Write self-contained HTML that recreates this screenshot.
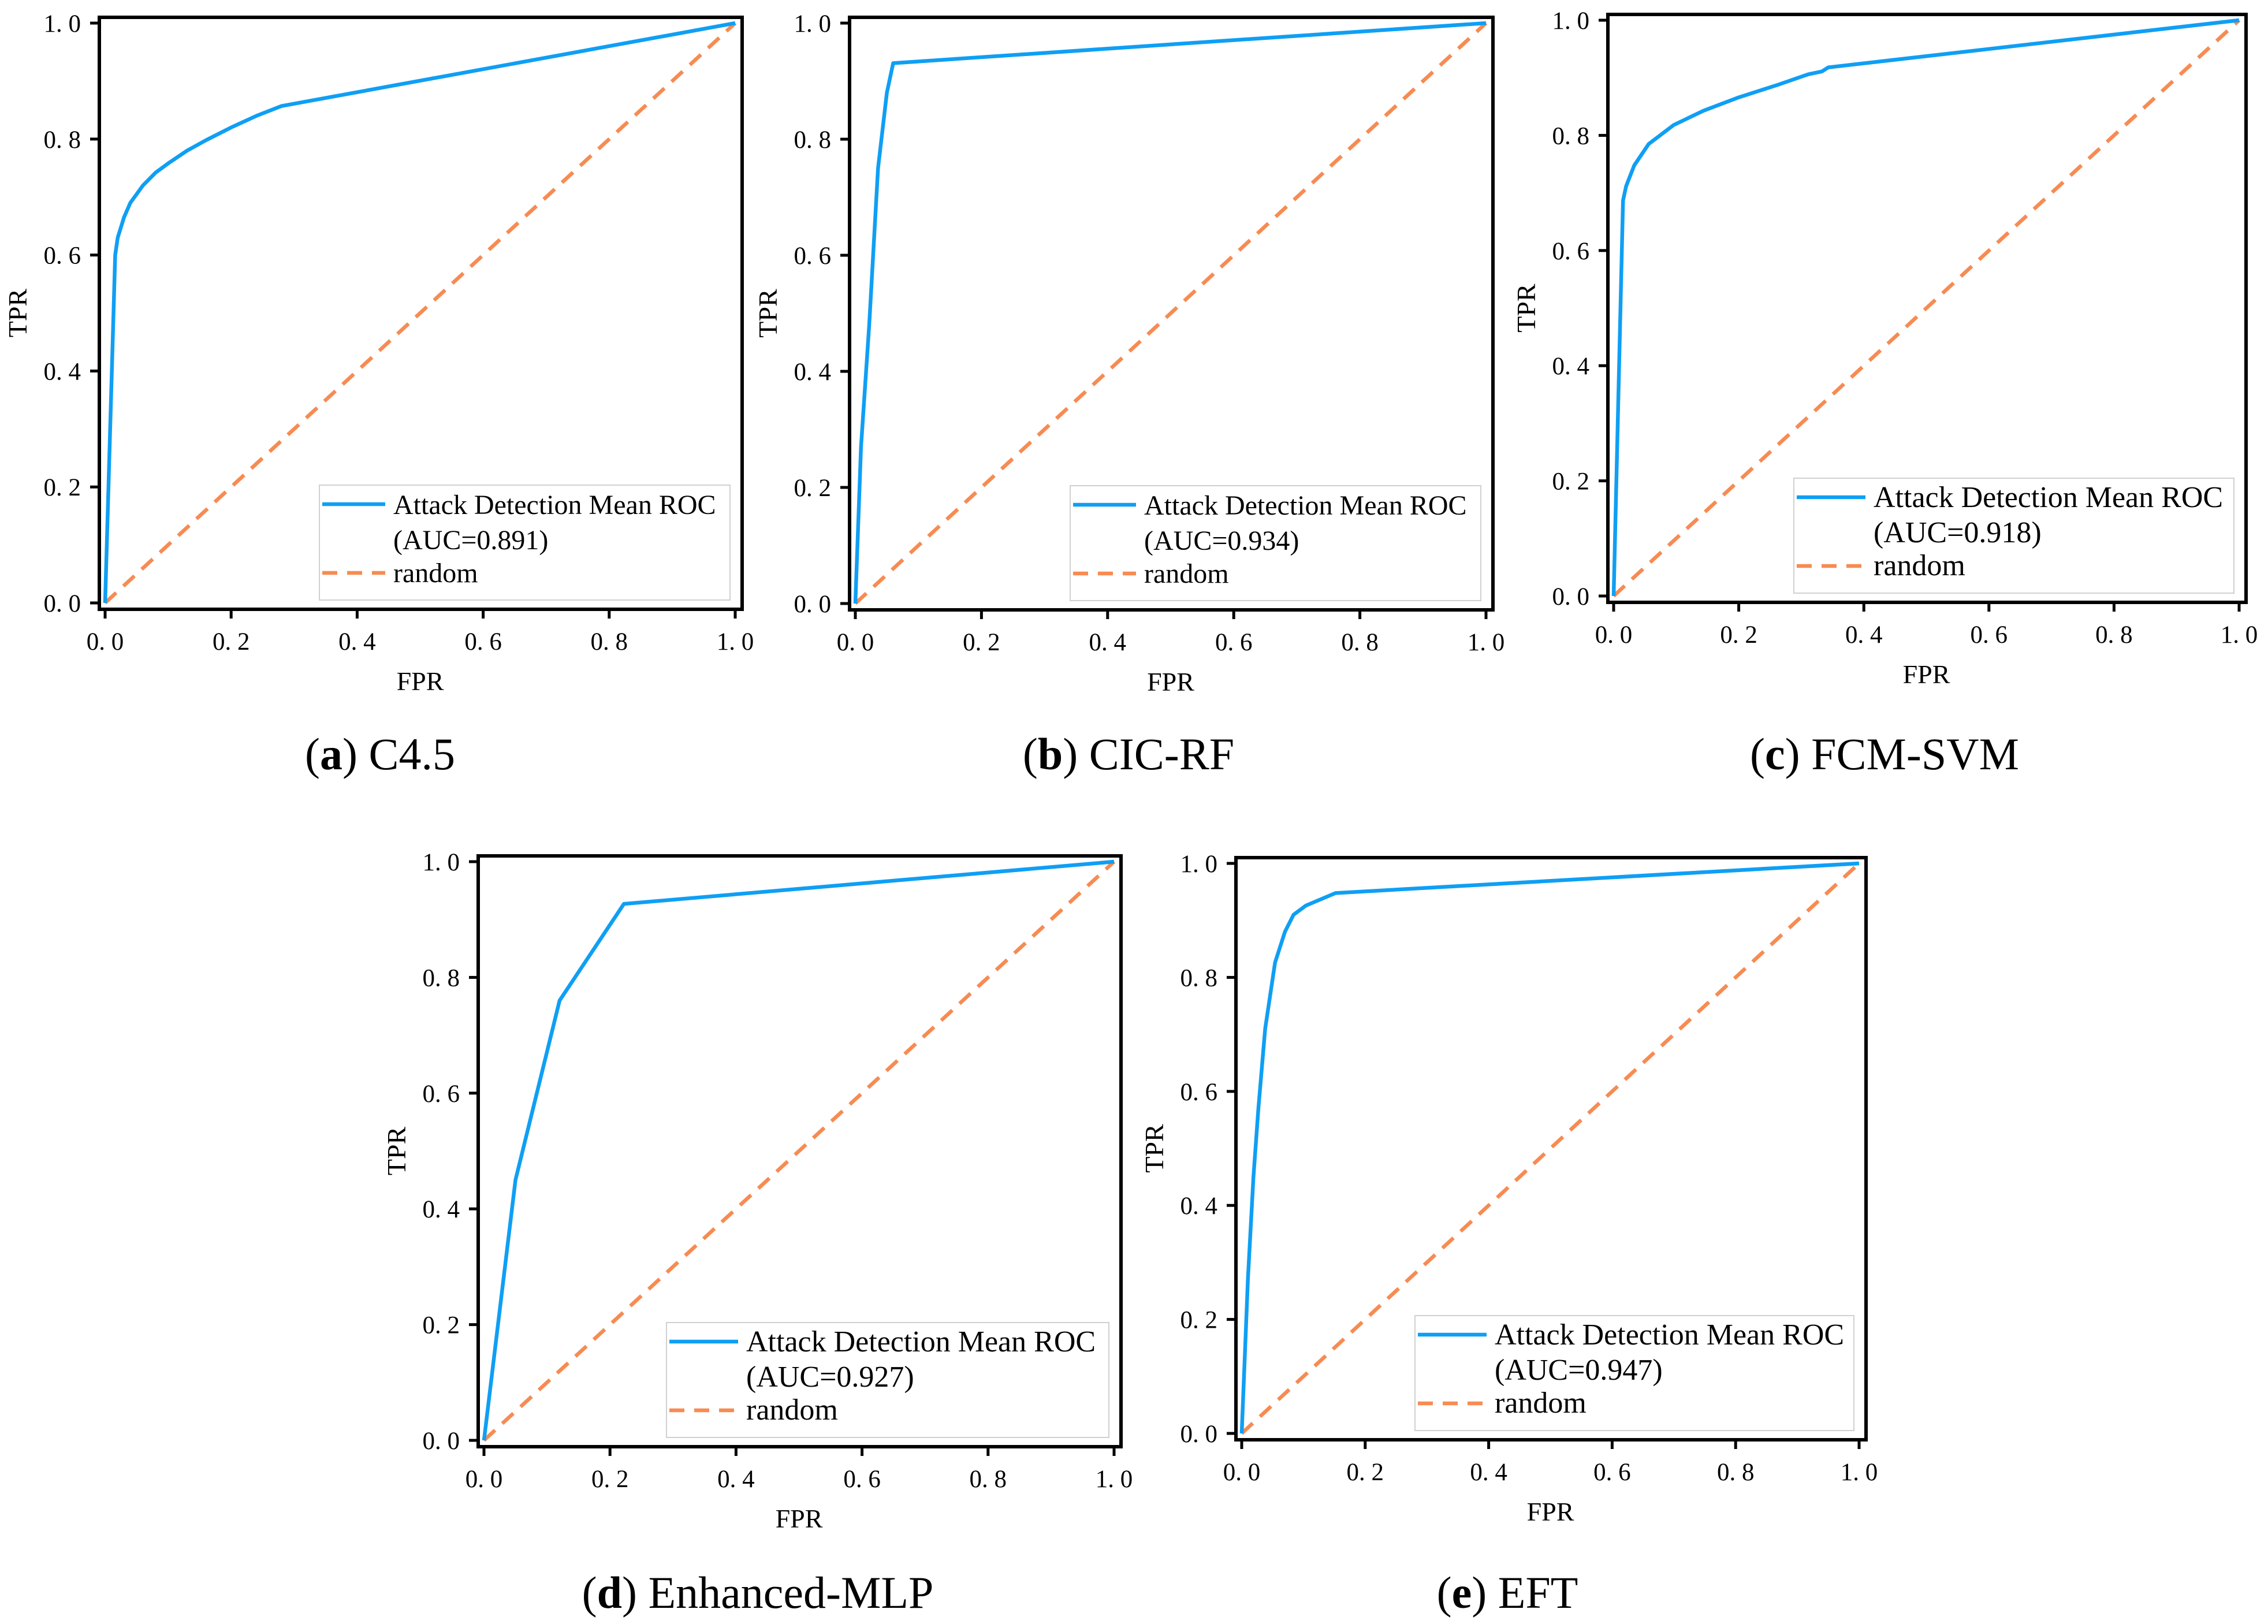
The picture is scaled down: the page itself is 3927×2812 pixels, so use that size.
<!DOCTYPE html>
<html><head><meta charset="utf-8">
<style>
html,body{margin:0;padding:0;background:#fff;}
svg{display:block;}
text{font-family:"Liberation Serif","Noto Serif CJK SC",serif;fill:#000;}
</style></head>
<body>
<svg id="fig" width="3927" height="2812" viewBox="0 0 3927 2812" xmlns="http://www.w3.org/2000/svg"></svg>
<script>
// ---- data ----
const fprA = [0,0.016,0.02,0.03,0.04,0.06,0.08,0.1,0.13,0.16,0.2,0.24,0.28,1];
const tprA = [0,0.6,0.63,0.665,0.69,0.72,0.742,0.758,0.78,0.798,0.82,0.84,0.857,1];
const fprB = [0,0.009,0.022,0.036,0.05,0.06,1];
const tprB = [0,0.27,0.48,0.75,0.88,0.931,1];
const fprC = [0,0.015,0.02,0.033,0.056,0.096,0.144,0.2,0.263,0.311,0.333,0.343,1];
const tprC = [0,0.687,0.712,0.748,0.785,0.818,0.843,0.866,0.888,0.906,0.911,0.918,1];
const fprD = [0,0.05,0.12,0.222,1];
const tprD = [0,0.45,0.76,0.927,1];
const fprE = [0,0.01,0.019,0.027,0.038,0.054,0.07,0.084,0.104,0.152,1];
const tprE = [0,0.27,0.45,0.57,0.71,0.826,0.88,0.91,0.926,0.948,1];
const randomX = [0,1];
const randomY = [0,1];
const tickVals = [0,0.2,0.4,0.6,0.8,1.0];
const tickLabels = ["0. 0","0. 2","0. 4","0. 6","0. 8","1. 0"];
const aucLabels = ["(AUC=0.891)","(AUC=0.934)","(AUC=0.918)","(AUC=0.927)","(AUC=0.947)"];
const captionLetters = ["a","b","c","d","e"];
const captionNames = ["C4.5","CIC-RF","FCM-SVM","Enhanced-MLP","EFT"];

// ---- layout ----
const panels = [
 {fpr:fprA,tpr:tprA,x0:182,x1:1273,y1:40,y0:1044,lf:48,lw:711,cx:658,cy:1332},
 {fpr:fprB,tpr:tprB,x0:1481,x1:2573,y1:40,y0:1045,lf:48,lw:711,cx:1954,cy:1332},
 {fpr:fprC,tpr:tprC,x0:2794,x1:3877,y1:35,y0:1032,lf:52,lw:762,cx:3263,cy:1332},
 {fpr:fprD,tpr:tprD,x0:838,x1:1929,y1:1492,y0:2494,lf:52,lw:766,cx:1312,cy:2784},
 {fpr:fprE,tpr:tprE,x0:2150,x1:3219,y1:1495,y0:2482,lf:52,lw:760,cx:2610,cy:2784}
];
const NS="http://www.w3.org/2000/svg";
const svg=document.getElementById('fig');
function mk(tag,attrs,parent){const e=document.createElementNS(NS,tag);for(const k in attrs)e.setAttribute(k,attrs[k]);(parent||svg).appendChild(e);return e;}
const BLUE="#0f9ff4", ORANGE="#f78b52";

panels.forEach((p,i)=>{
  const g=mk('g',{});
  
  
  const sx=v=>p.x0+v*(p.x1-p.x0);
  const sy=v=>p.y0-v*(p.y0-p.y1);
  const L=p.x0-10,R=p.x1+12,T=p.y1-10,B=p.y0+11;
  const rnd=mk('polyline',{points:randomX.map((v,k)=>sx(v)+','+sy(randomY[k])).join(' '),fill:'none',stroke:ORANGE,'stroke-width':6.5,'stroke-dasharray':'26,17'},g);
  
  
  const roc=mk('polyline',{points:p.fpr.map((v,k)=>sx(v)+','+sy(p.tpr[k])).join(' '),fill:'none',stroke:BLUE,'stroke-width':6.5,'stroke-linejoin':'round'},g);
  
  
  const fr=mk('rect',{x:L,y:T,width:R-L,height:B-T,fill:'none',stroke:'#000','stroke-width':6},g);
  
  
  tickVals.forEach((v,k)=>{
    const tx=mk('line',{x1:sx(v),x2:sx(v),y1:B,y2:B+16,stroke:'#000','stroke-width':5},g);
    
    
    const lx=mk('text',{x:sx(v),y:B+70,'text-anchor':'middle','font-size':43},g);
    lx.textContent=tickLabels[k];
    
    
    const ty=mk('line',{x1:L,x2:L-16,y1:sy(v),y2:sy(v),stroke:'#000','stroke-width':5},g);
    
    
    const ly=mk('text',{x:L-32,y:sy(v)+15,'text-anchor':'end','font-size':43},g);
    ly.textContent=tickLabels[k];
    
    
  });
  const xt=mk('text',{x:(p.x0+p.x1)/2,y:B+140,'text-anchor':'middle','font-size':46},g);
  xt.textContent='FPR';
  
  
  const ycx=L-126, ycy=(p.y0+p.y1)/2;
  const yt=mk('text',{x:ycx,y:ycy,'text-anchor':'middle','font-size':46,transform:`rotate(-90 ${ycx} ${ycy})`},g);
  yt.textContent='TPR';
  
  
  const lgR=R-21, lgB=B-16, lgH=199, lgL=lgR-p.lw, lgT=lgB-lgH;
  const lg=mk('g',{},g);
  
  
  mk('rect',{x:lgL,y:lgT,width:p.lw,height:lgH,fill:'#fff',stroke:'#d0d0d0','stroke-width':2},lg);
  const big=p.lf>48;
  const txo=big?138:128, lnEnd=big?124:114;
  const l1=mk('line',{x1:lgL+5,x2:lgL+lnEnd,y1:lgT+33,y2:lgT+33,stroke:BLUE,'stroke-width':6.5},lg);
  
  
  const t1=mk('text',{x:lgL+txo,y:lgT+50,'font-size':p.lf},lg);
  t1.textContent='Attack Detection Mean ROC';
  
  
  const t2=mk('text',{x:lgL+txo,y:lgT+111,'font-size':p.lf},lg);
  t2.textContent=aucLabels[i];
  
  
  const l2=mk('line',{x1:lgL+5,x2:lgL+lnEnd,y1:lgT+152,y2:lgT+152,stroke:ORANGE,'stroke-width':6.5,'stroke-dasharray':'26,17'},lg);
  
  
  const t3=mk('text',{x:lgL+txo,y:lgT+168,'font-size':p.lf},lg);
  t3.textContent='random';
  
  
  const cap=mk('text',{x:p.cx,y:p.cy,'text-anchor':'middle','font-size':78},g);
  
  
  const s1=mk('tspan',{},cap); s1.textContent='(';
  const s2=mk('tspan',{'font-weight':'bold'},cap); s2.textContent=captionLetters[i];
  const s3=mk('tspan',{},cap); s3.textContent=') '+captionNames[i];
});
</script>
</body></html>
